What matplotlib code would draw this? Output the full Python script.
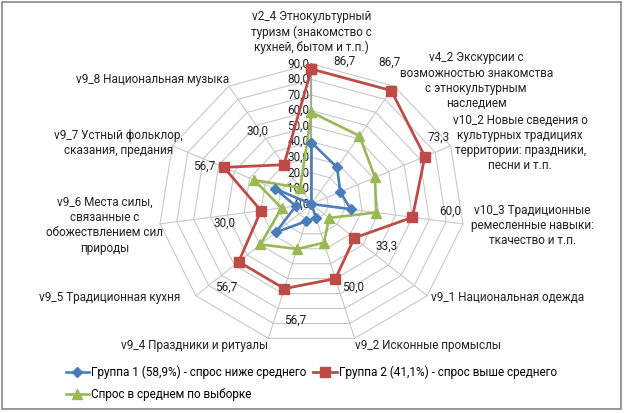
import numpy as np
import matplotlib
matplotlib.use('Agg')
import matplotlib.pyplot as plt
from matplotlib.patches import Rectangle

plt.rcParams['font.family'] = ['Roboto', 'DejaVu Sans']

# Categories (clockwise from top)
categories = [
    'v2_4 Этнокультурный\nтуризм (знакомство с\nкухней, бытом и т.п.)',
    'v4_2 Экскурсии с\nвозможностью знакомства\nс этнокультурным\nнаследием',
    'v10_2 Новые сведения о\nкультурных традициях\nтерритории: праздники,\nпесни и т.п.',
    'v10_3 Традиционные\nремесленные навыки:\nткачество и т.п.',
    'v9_1 Национальная одежда',
    'v9_2 Исконные промыслы',
    'v9_4 Праздники и ритуалы',
    'v9_5 Традиционная кухня',
    'v9_6 Места силы,\nсвязанные с\nобожествлением сил\nприроды',
    'v9_7 Устный фольклор,\nсказания, предания',
    'v9_8 Национальная музыка',
]
group1 = [39.5, 27.9, 18.6, 23.3, 0.0, 9.3, 11.6, 27.9, 9.3, 23.3, 0.0]
group2 = [86.7, 86.7, 73.3, 60.0, 33.3, 50.0, 56.7, 56.7, 30.0, 56.7, 30.0]
average = [58.9, 52.1, 41.1, 38.4, 13.7, 26.0, 30.1, 39.7, 17.8, 37.0, 12.3]
radial_ticks = [0, 10, 20, 30, 40, 50, 60, 70, 80, 90]
legend_labels = ['Группа 1 (58,9%) - спрос ниже среднего',
                 'Группа 2 (41,1%) - спрос выше среднего',
                 'Спрос в среднем по выборке']

# where the text sits relative to its point (points)
label_offsets = [(24, 5.5), (-1.5, 20), (10, 14), (27, 4), (23, -6), (13, -6),
                 (8, -23), (-9, -18), (-26, -9), (-14, 1), (-19, 24)]
cat_offsets = [(0, 23), (59, 4), (50, 2), (50, -1), (58, -1), (53, -5),
               (-53, -5), (-62, -1), (-40, -1), (-39, 2), (-55, 5)]

n = len(categories)
theta = np.arange(n) * 2 * np.pi / n
sx, sy = np.sin(theta), np.cos(theta)


def closed(vals):
    v = np.asarray(vals, dtype=float)
    return np.append(v * sx, v[0] * sx[0]), np.append(v * sy, v[0] * sy[0])


fig = plt.figure(figsize=(6.24, 4.13), dpi=100)
ax = fig.add_axes([0, 0, 1, 1])
ax.set_xlim(-311.5 / 1.7, (624 - 311.5) / 1.7)
ax.set_ylim(-(413 - 204) / 1.556, 204 / 1.556)
ax.set_axis_off()

fs = 8.5
tc = '#222222'

# polygon grid
for lv in radial_ticks[1:]:
    gx, gy = closed([lv] * n)
    ax.plot(gx, gy, color='#c8c8c8', lw=0.8, zorder=1)
rmax = radial_ticks[-1]
for k in range(n):
    c = '#a6a6a6' if k == 0 else '#c8c8c8'
    w = 1.6 if k == 0 else 0.8
    ax.plot([0, rmax * sx[k]], [0, rmax * sy[k]], color=c, lw=w, zorder=1)

# radial tick labels
for t in radial_ticks:
    ax.annotate(f'{t:.1f}'.replace('.', ','), (0, t), xytext=(-1.5, 0),
                textcoords='offset points', ha='right', va='center',
                fontsize=fs, color=tc, zorder=2)

# series
bx, by = closed(group1)
rx, ry = closed(group2)
gx, gy = closed(average)
l1, = ax.plot(bx, by, color='#4a7ebb', lw=1.9, marker='D', ms=5, zorder=4)
l2, = ax.plot(rx, ry, color='#be4b48', lw=2.0, marker='s', ms=7, zorder=3)
l3, = ax.plot(gx, gy, color='#98b954', lw=1.9, marker='^', ms=7, zorder=3)

# data labels for group 2
for k, v in enumerate(group2):
    ax.annotate(f'{v:.1f}'.replace('.', ','), (v * sx[k], v * sy[k]),
                xytext=label_offsets[k], textcoords='offset points',
                ha='center', va='center', fontsize=fs, color=tc, zorder=5)

# category labels
for k, lab in enumerate(categories):
    ax.annotate(lab, (rmax * sx[k], rmax * sy[k]), xytext=cat_offsets[k],
                textcoords='offset points', ha='center', va='center',
                multialignment='center', fontsize=fs, color=tc,
                linespacing=1.22)

fig.legend([l1, l3, l2], [legend_labels[0], legend_labels[2], legend_labels[1]],
           ncol=2, loc='upper left', bbox_to_anchor=(0.105, 1 - 366 / 413),
           frameon=False, fontsize=fs, handlelength=2.0, handletextpad=0.15,
           columnspacing=0.6, labelspacing=0.75, borderpad=0, borderaxespad=0)

fig.patches.append(Rectangle((2 / 624, 4 / 413), 619 / 624, 407 / 413,
                             transform=fig.transFigure, fill=False,
                             edgecolor='#868686', lw=1.2))

fig.savefig('out.png', dpi=100)
